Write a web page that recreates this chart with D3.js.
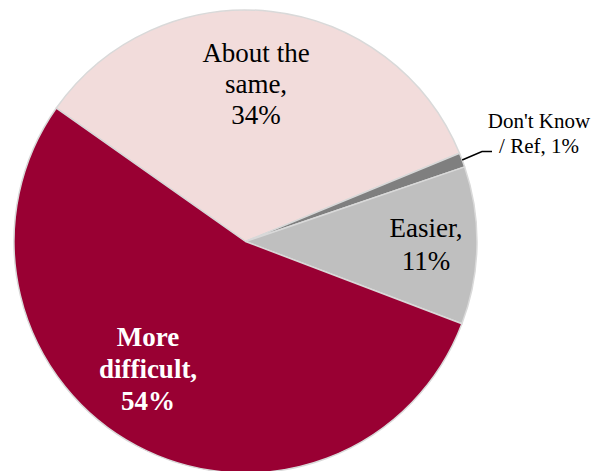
<!DOCTYPE html>
<html>
<head>
<meta charset="utf-8">
<script src="https://cdn.jsdelivr.net/npm/d3@7"></script>
<style>
  html, body { margin: 0; padding: 0; background: #fff; }
  svg { display: block; }
  text { font-family: "Liberation Serif", "Times New Roman", serif; }
</style>
</head>
<body>
<svg id="chart" width="600" height="471"></svg>
<script>
// ---- data ----
const categories = ["About the same", "Don't Know / Ref", "Easier", "More difficult"];
const values = [34, 1, 11, 54];
const labelLines = [
  ["About the", "same,", "34%"],
  ["Don't Know", "/ Ref, 1%"],
  ["Easier,", "11%"],
  ["More", "difficult,", "54%"]
];
const colors = ["#F2DCDB", "#7F7F7F", "#BFBFBF", "#990033"];

// ---- layout ----
const W = 600, H = 471;
const cx = 245.5, cy = 241.5, R = 231.5;
const startDeg = -54.8;
const toRad = d => d * Math.PI / 180;

const svg = d3.select("#chart");
const g = svg.append("g").attr("transform", `translate(${cx},${cy})`);

const pie = d3.pie().sort(null).value(d => d)
  .startAngle(toRad(startDeg)).endAngle(toRad(startDeg) + 2 * Math.PI);
const arcs = pie(values);
const arc = d3.arc().innerRadius(0).outerRadius(R);

g.selectAll("path.slice").data(arcs).enter().append("path")
  .attr("class", "slice")
  .attr("d", arc)
  .attr("fill", (d, i) => colors[i])
  .attr("stroke", "#D9D9D9")
  .attr("stroke-width", 1.5)
  .attr("stroke-linejoin", "round");

// label styles / placement (relative to pie centre)
const labelCfg = [
  { x: 10.5, y: 0, base: -180, size: 27, lh: 31, color: "#000", weight: "normal" },
  { x: 293.5, y: 0, base: -113.5, size: 21, lh: 25, color: "#000", weight: "normal" },
  { x: 180.5, y: 0, base: -4.5, size: 27, lh: 32.5, color: "#000", weight: "normal" },
  { x: -97.5, y: 0, base: 104.5, size: 27, lh: 32, color: "#fff", weight: "bold" }
];

labelLines.forEach((lines, i) => {
  const c = labelCfg[i];
  const t = g.append("text")
    .attr("text-anchor", "middle")
    .attr("fill", c.color)
    .attr("font-weight", c.weight)
    .attr("font-size", c.size);
  lines.forEach((ln, j) => {
    t.append("tspan").attr("x", c.x).attr("y", c.base + j * c.lh).text(ln);
  });
});

// leader line for the tiny slice
const dk = arcs[1];
const mid = (dk.startAngle + dk.endAngle) / 2;
const p0 = [R * Math.sin(mid), -R * Math.cos(mid)];
const p1 = [236.5, -90];
const p2 = [246.5, -90];
g.append("polyline")
  .attr("points", [p0, p1, p2].map(p => p.join(",")).join(" "))
  .attr("fill", "none")
  .attr("stroke", "#000")
  .attr("stroke-width", 1.5);
</script>
</body>
</html>
